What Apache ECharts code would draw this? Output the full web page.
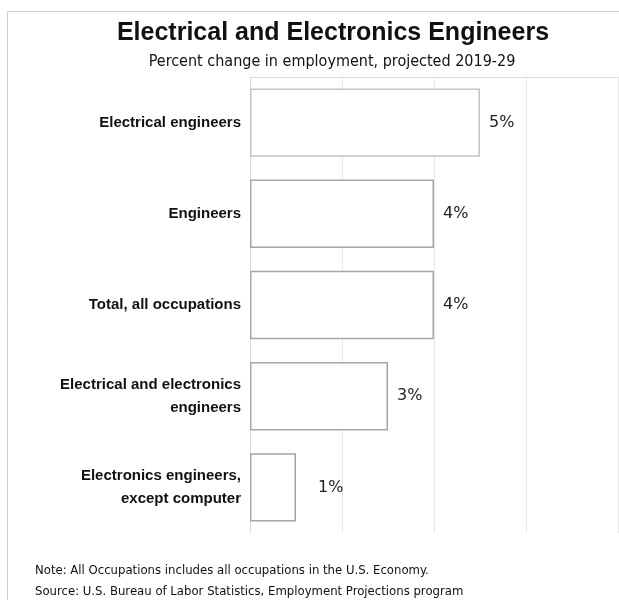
<!DOCTYPE html>
<html>
<head>
<meta charset="utf-8">
<script src="https://cdn.jsdelivr.net/npm/echarts@6/dist/echarts.min.js"></script>
<style>
html,body{margin:0;padding:0;background:#fff;}
#chart{width:619px;height:600px;}
</style>
</head>
<body>
<div id="chart"></div>
<script>
var titleText = 'Electrical and Electronics Engineers';
var subtitleText = 'Percent change in employment, projected 2019-29';
var noteText = 'Note: All Occupations includes all occupations in the U.S. Economy.';
var sourceText = 'Source: U.S. Bureau of Labor Statistics, Employment Projections program';
var categories = ['Electrical engineers', 'Engineers', 'Total, all occupations', 'Electrical and electronics\nengineers', 'Electronics engineers,\nexcept computer'];
var values = [5, 4, 4, 3, 1];
var valueLabels = ['5%', '4%', '4%', '3%', '1%'];
var axisMin = 0, axisMax = 8, axisInterval = 2;

var chart = echarts.init(document.getElementById('chart'));
var borderColors = ['#c4c4c4', '#a6a6a6', '#a6a6a6', '#a6a6a6', '#a6a6a6'];
var labelDist = [9, 9, 9, 9, 22];

var option = {
  animation: false,
  backgroundColor: '#fff',
  grid: {left: 250, right: 1, top: 77, height: 456, containLabel: false},
  xAxis: {
    type: 'value', position: 'top', min: axisMin, max: axisMax, interval: axisInterval,
    axisLine: {show: true, lineStyle: {color: '#dcdcdc', width: 1}},
    axisTick: {show: false}, axisLabel: {show: false},
    splitLine: {show: true, lineStyle: {color: '#e8e8e8', width: 1}}
  },
  yAxis: {
    type: 'category', data: categories, inverse: true,
    axisLine: {show: true, lineStyle: {color: '#dcdcdc', width: 1}},
    axisTick: {show: false},
    axisLabel: {
      margin: 9, align: 'right', color: '#111',
      fontFamily: 'Liberation Sans, Arial, sans-serif', fontWeight: 'bold', fontSize: 15, lineHeight: 23
    }
  },
  series: [{
    type: 'bar', barWidth: '75%',
    data: values.map(function(v, i){
      return {
        value: v,
        itemStyle: {color: '#ffffff', borderColor: borderColors[i], borderWidth: 1.5},
        label: {
          show: true, position: 'right', distance: labelDist[i],
          formatter: valueLabels[i], color: '#222',
          fontFamily: 'DejaVu Sans, sans-serif', fontSize: 16, padding: [9, 0, 0, 0]
        }
      };
    })
  }],
  graphic: [
    {type: 'rect', silent: true, shape: {x: 7.5, y: 11.5, width: 800, height: 800},
     style: {fill: 'none', stroke: '#cccccc', lineWidth: 1}},
    {type: 'text', x: 333, y: 33, style: {text: titleText, textAlign: 'center', textVerticalAlign: 'middle',
      font: 'bold 25px "Liberation Sans", Arial, sans-serif', fill: '#111'}},
    {type: 'text', x: 332, y: 62, style: {text: subtitleText, textAlign: 'center', textVerticalAlign: 'middle',
      font: '16px "DejaVu Sans Condensed", "DejaVu Sans", sans-serif', fill: '#111'}},
    {type: 'text', x: 35, y: 571, style: {text: noteText, textAlign: 'left', textVerticalAlign: 'middle',
      font: '13px "DejaVu Sans Condensed", "DejaVu Sans", sans-serif', fill: '#111'}},
    {type: 'text', x: 35, y: 592, style: {text: sourceText, textAlign: 'left', textVerticalAlign: 'middle',
      font: '13px "DejaVu Sans Condensed", "DejaVu Sans", sans-serif', fill: '#111'}}
  ]
};
chart.setOption(option);
</script>
</body>
</html>
